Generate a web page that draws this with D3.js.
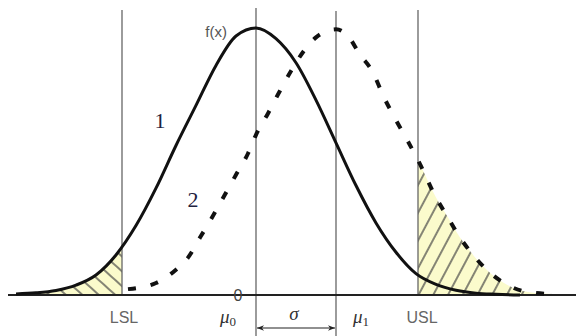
<!DOCTYPE html>
<html>
<head>
<meta charset="utf-8">
<script src="https://cdn.jsdelivr.net/npm/d3@7"></script>
<style>
  body { margin: 0; background: #fff; }
  svg { display: block; }
</style>
</head>
<body>
<div id="chart"></div>
<script>
// curve 1 (solid) - centred on mu0
const x1 = [-3.0, -2.75, -2.5, -2.25, -2.0, -1.75, -1.5, -1.25, -1.0, -0.75, -0.5, -0.25, 0,
  0.25, 0.5, 0.75, 1.0, 1.25, 1.5, 1.75, 2.0, 2.25, 2.5, 2.75, 3.0, 3.3];
const y1 = [0.004, 0.008, 0.017, 0.037, 0.075, 0.15, 0.26, 0.40, 0.56, 0.71, 0.86, 0.97, 1.0,
  0.96, 0.87, 0.73, 0.57, 0.41, 0.27, 0.16, 0.08, 0.04, 0.018, 0.007, 0.003, 0.0];

// curve 2 (dashed) - shifted to mu1
const x2 = [-1.6, -1.25, -1.0, -0.85, -0.7, -0.55, -0.4, -0.25, -0.1, 0.0, 0.15, 0.3, 0.45, 0.6,
  0.75, 0.9, 1.0, 1.15, 1.3, 1.45, 1.6, 1.75, 1.9, 2.05, 2.25, 2.4, 2.55, 2.7, 2.9, 3.1, 3.4, 3.75];
const y2 = [0.022, 0.045, 0.095, 0.14, 0.215, 0.29, 0.37, 0.45, 0.53, 0.60, 0.68, 0.765, 0.845, 0.915,
  0.965, 0.99, 0.995, 0.97, 0.90, 0.84, 0.74, 0.655, 0.575, 0.49, 0.365, 0.29, 0.215, 0.155, 0.09, 0.045, 0.011, 0.003];

// vertical reference lines
const LSL = -1.675, MU0 = 0, MU1 = 1, USL = 2.025;

const W = 576, H = 336;
const x = d3.scaleLinear().domain([-3.2, 4.0]).range([0, W]);
const y = d3.scaleLinear().domain([0, 1]).range([295, 28]);

const svg = d3.select("#chart").append("svg")
  .attr("width", W).attr("height", H);

const defs = svg.append("defs");

function hatch(id, angle, size) {
  const p = defs.append("pattern")
    .attr("id", id)
    .attr("patternUnits", "userSpaceOnUse")
    .attr("width", size).attr("height", size)
    .attr("patternTransform", "rotate(" + angle + ")");
  p.append("rect").attr("width", size).attr("height", size).attr("fill", "#fbfbcc");
  p.append("line").attr("x1", 1).attr("y1", 0).attr("x2", 1).attr("y2", size)
    .attr("stroke", "#444").attr("stroke-width", 1.3);
}
hatch("hatchL", -48, 11);
hatch("hatchR", 28, 13);

defs.append("clipPath").attr("id", "clipL")
  .append("rect").attr("x", 0).attr("y", 0).attr("width", x(LSL)).attr("height", H);
defs.append("clipPath").attr("id", "clipR")
  .append("rect").attr("x", x(USL)).attr("y", 0).attr("width", W - x(USL)).attr("height", H);

defs.append("marker").attr("id", "arr")
  .attr("viewBox", "0 0 10 10").attr("refX", 10).attr("refY", 5)
  .attr("markerWidth", 11).attr("markerHeight", 7)
  .attr("markerUnits", "userSpaceOnUse")
  .attr("orient", "auto-start-reverse")
  .append("path").attr("d", "M0,1 L10,5 L0,9 L3,5 Z").attr("fill", "#222");

const pts1 = x1.map((v, i) => [v, y1[i]]);
const pts2 = x2.map((v, i) => [v, y2[i]]);

const area = d3.area()
  .x(d => x(d[0])).y0(y(0)).y1(d => y(d[1]))
  .curve(d3.curveMonotoneX);
const line = d3.line()
  .x(d => x(d[0])).y(d => y(d[1]))
  .curve(d3.curveMonotoneX);

// shaded tails
svg.append("path").datum(pts1)
  .attr("d", area).attr("fill", "url(#hatchL)")
  .attr("clip-path", "url(#clipL)");
svg.append("path").datum(pts2)
  .attr("d", area).attr("fill", "url(#hatchR)")
  .attr("clip-path", "url(#clipR)");

// vertical lines
const vlines = [
  { v: LSL, top: 10, bottom: 295 },
  { v: MU0, top: 8, bottom: 336 },
  { v: MU1, top: 11, bottom: 336 },
  { v: USL, top: 10, bottom: 295 }
];
svg.selectAll(".vl").data(vlines).enter().append("line")
  .attr("x1", d => x(d.v)).attr("x2", d => x(d.v))
  .attr("y1", d => d.top).attr("y2", d => d.bottom)
  .attr("stroke", "#666").attr("stroke-width", 1.3);

// baseline
svg.append("line")
  .attr("x1", 8).attr("x2", W).attr("y1", y(0)).attr("y2", y(0))
  .attr("stroke", "#222").attr("stroke-width", 2);

// curves
svg.append("path").datum(pts2)
  .attr("d", line).attr("fill", "none")
  .attr("stroke", "#111").attr("stroke-width", 4)
  .attr("stroke-dasharray", "8,15");
svg.append("path").datum(pts1)
  .attr("d", line).attr("fill", "none")
  .attr("stroke", "#111").attr("stroke-width", 3);

// sigma arrow
svg.append("line")
  .attr("x1", x(MU0) + 1).attr("x2", x(MU1) - 1)
  .attr("y1", 328).attr("y2", 328)
  .attr("stroke", "#222").attr("stroke-width", 1.2)
  .attr("marker-start", "url(#arr)").attr("marker-end", "url(#arr)");

// labels
const sans = "'Liberation Sans', Arial, sans-serif";
const serif = "'Liberation Serif', 'Times New Roman', serif";

svg.append("text").attr("x", 227).attr("y", 37)
  .attr("text-anchor", "end").attr("font-family", sans)
  .attr("font-size", 15).attr("fill", "#555").text("f(x)");

svg.append("text").attr("x", 238).attr("y", 301)
  .attr("text-anchor", "middle").attr("font-family", sans)
  .attr("font-size", 16).attr("fill", "#444").text("0");

svg.append("text").attr("x", x(LSL) + 2).attr("y", 323)
  .attr("text-anchor", "middle").attr("font-family", sans)
  .attr("font-size", 16).attr("fill", "#666").text("LSL");
svg.append("text").attr("x", x(USL) + 4).attr("y", 323)
  .attr("text-anchor", "middle").attr("font-family", sans)
  .attr("font-size", 16).attr("fill", "#666").text("USL");

const mu0 = svg.append("text").attr("x", 220).attr("y", 323)
  .attr("font-family", serif).attr("font-size", 19).attr("fill", "#333");
mu0.append("tspan").attr("font-style", "italic").text("μ");
mu0.append("tspan").attr("font-size", 13).attr("dy", 3).text("0");

const mu1 = svg.append("text").attr("x", 353).attr("y", 323)
  .attr("font-family", serif).attr("font-size", 19).attr("fill", "#333");
mu1.append("tspan").attr("font-style", "italic").text("μ");
mu1.append("tspan").attr("font-size", 13).attr("dy", 3).text("1");

svg.append("text").attr("x", 294).attr("y", 320)
  .attr("text-anchor", "middle").attr("font-family", serif)
  .attr("font-style", "italic").attr("font-size", 19).attr("fill", "#333").text("σ");

svg.append("text").attr("x", 160).attr("y", 128)
  .attr("text-anchor", "middle").attr("font-family", serif)
  .attr("font-size", 22).attr("fill", "#1e2240").text("1");
svg.append("text").attr("x", 193).attr("y", 207)
  .attr("text-anchor", "middle").attr("font-family", serif)
  .attr("font-size", 22).attr("fill", "#1e2240").text("2");
</script>
</body>
</html>
